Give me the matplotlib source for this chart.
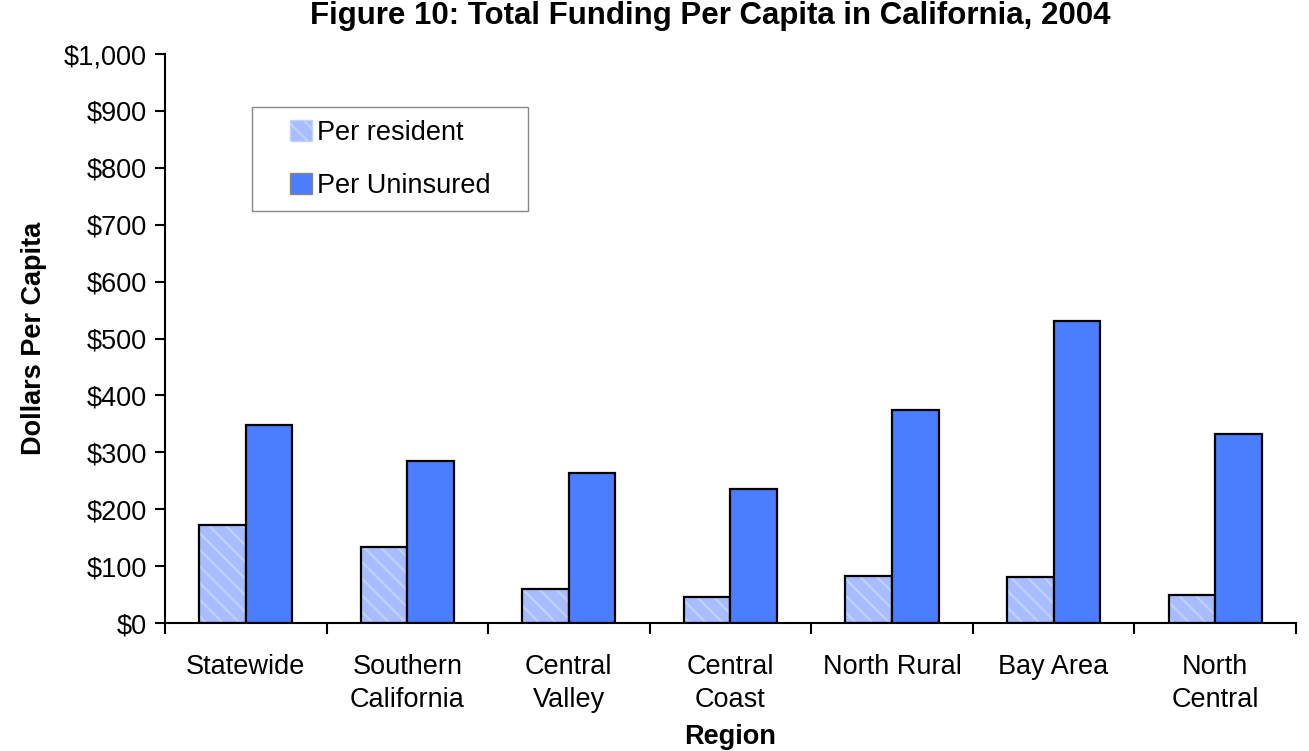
import numpy as np
import matplotlib
matplotlib.use("Agg")
import matplotlib.pyplot as plt
from matplotlib.patches import Rectangle
from matplotlib.ticker import FuncFormatter, FixedLocator

REGIONS = [
    "Statewide", "Southern\nCalifornia", "Central\nValley", "Central\nCoast",
    "North Rural", "Bay Area", "North\nCentral",
]
PER_RESIDENT = [172, 134, 60, 46, 83, 81, 49]
PER_UNINSURED = [348, 285, 264, 236, 374, 531, 332]

RESIDENT_COLOR = "#a8bdff"
RESIDENT_HATCH = "#c2d1ff"
UNINSURED_COLOR = "#4a7eff"

plt.rcParams["font.family"] = ["Liberation Sans", "DejaVu Sans"]
plt.rcParams["hatch.linewidth"] = 1.5

W, H = 1309, 751
fig = plt.figure(figsize=(W / 100, H / 100), dpi=100)
ax = fig.add_axes([0.126, 0.1704, 0.864, 0.7576])

x = np.arange(len(REGIONS))
w = 0.288
# hatched fill first (hatch takes the edge colour), black outline on top
ax.bar(x - w / 2, PER_RESIDENT, width=w, color=RESIDENT_COLOR,
       edgecolor=RESIDENT_HATCH, linewidth=0, hatch="\\\\", label="Per resident")
ax.bar(x - w / 2, PER_RESIDENT, width=w, fill=False, edgecolor="black", linewidth=1.6)
ax.bar(x + w / 2, PER_UNINSURED, width=w, color=UNINSURED_COLOR, edgecolor="black",
       linewidth=1.6, label="Per Uninsured")

ax.set_xlim(-0.5, len(REGIONS) - 0.5)
ax.set_ylim(0, 1000)
ax.set_yticks(np.arange(0, 1001, 100))
ax.yaxis.set_major_formatter(FuncFormatter(lambda v, p: f"${v:,.0f}"))

# category labels at centres, tick marks at boundaries
ax.set_xticks(x)
ax.set_xticklabels(REGIONS, fontsize=19.5, linespacing=1.38)
ax.tick_params(axis="x", which="major", length=0, pad=22)
ax.xaxis.set_minor_locator(FixedLocator(np.arange(-0.5, len(REGIONS), 1.0)))
ax.tick_params(axis="x", which="minor", length=8, width=1.5, direction="out")
ax.tick_params(axis="y", labelsize=19.5, length=7, width=1.5, direction="out", pad=6)

for side in ["top", "right"]:
    ax.spines[side].set_visible(False)
for side in ["left", "bottom"]:
    ax.spines[side].set_linewidth(1.5)

ax.set_ylabel("Dollars Per Capita", fontsize=19.5, fontweight="bold")
ax.yaxis.set_label_coords(-118 / (0.864 * W), 0.5)
ax.set_xlabel("Region", fontsize=19.5, fontweight="bold", va="center")
ax.xaxis.set_label_coords(0.5, -(737 - 623) / (0.7576 * H))

fig.text(710 / W, 1 - 1 / H, "Figure 10: Total Funding Per Capita in California, 2004",
         ha="center", va="top", fontsize=22.5, fontweight="bold")

# legend box
fig.add_artist(Rectangle((252 / W, 1 - 211 / H), 276 / W, 104 / H,
                         transform=fig.transFigure, facecolor="white",
                         edgecolor="#888888", linewidth=1.0, zorder=3))
leg = fig.legend(loc="upper left", bbox_to_anchor=(290 / W, 1 - 120 / H),
                 fontsize=19.5, frameon=False,
                 handlelength=0.8, handleheight=0.8, handletextpad=0.18,
                 labelspacing=1.0, borderpad=0, borderaxespad=0)
leg.set_zorder(4)
for h in leg.legend_handles:
    h.set_edgecolor("#888888")
    h.set_linewidth(1.0)
leg.legend_handles[0].set_edgecolor(RESIDENT_HATCH)

fig.savefig("out.png", dpi=100)
